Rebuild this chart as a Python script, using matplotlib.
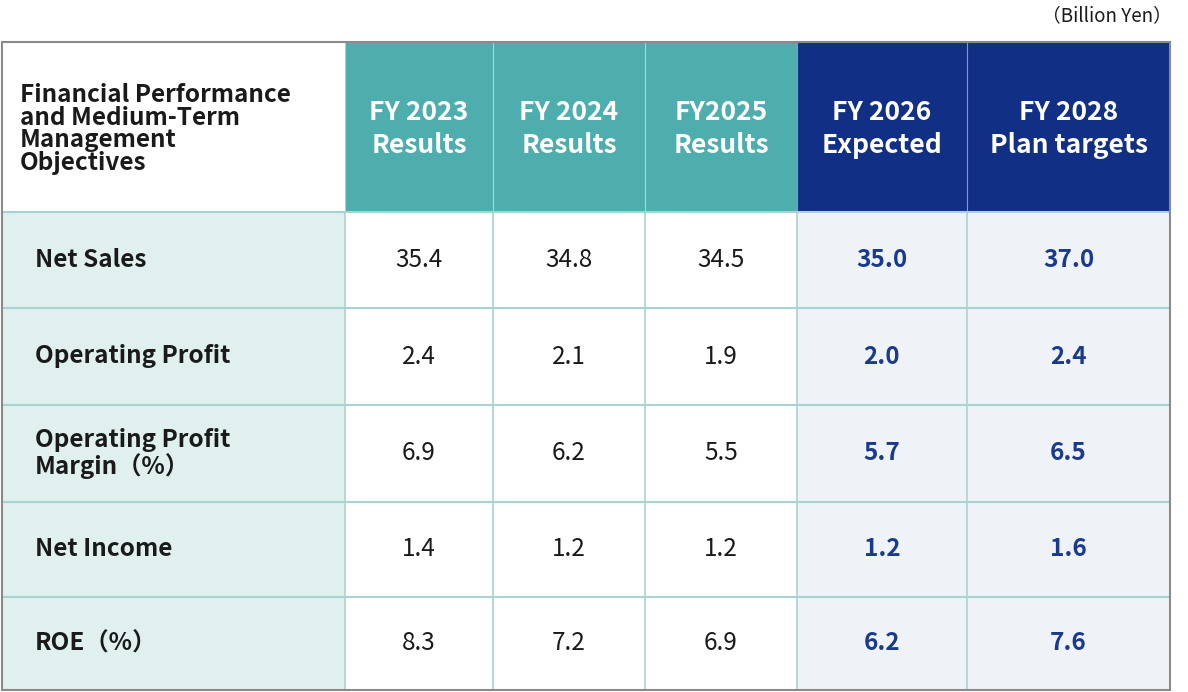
import matplotlib
matplotlib.use("Agg")
import matplotlib.pyplot as plt
from matplotlib.patches import Rectangle

plt.rcParams['font.family'] = ['Noto Sans CJK JP', 'DejaVu Sans']

corner = "Financial Performance\nand Medium-Term\nManagement\nObjectives"
columns = ["FY 2023\nResults", "FY 2024\nResults", "FY2025\nResults", "FY 2026\nExpected", "FY 2028\nPlan targets"]
rows = ["Net Sales", "Operating Profit", "Operating Profit\nMargin（%）", "Net Income", "ROE（%）"]
values = [
    ["35.4", "34.8", "34.5", "35.0", "37.0"],
    ["2.4", "2.1", "1.9", "2.0", "2.4"],
    ["6.9", "6.2", "5.5", "5.7", "6.5"],
    ["1.4", "1.2", "1.2", "1.2", "1.6"],
    ["8.3", "7.2", "6.9", "6.2", "7.6"],
]
unit = "（Billion Yen）"

xs = [2, 345, 493, 645, 797, 967, 1170]
ys = [42, 212, 308, 405, 502, 597, 690]

TEAL = "#4DAEAD"; NAVY = "#122F86"; LTEAL = "#E0F0EF"; LNAVY = "#EFF3F7"
LINE = "#A8D3D1"; NAVYTXT = "#1A3A8E"

fig = plt.figure(figsize=(11.88, 6.92), dpi=100)
ax = fig.add_axes([0, 0, 1, 1])
ax.set_xlim(0, 1188); ax.set_ylim(692, 0); ax.axis('off')

def rect(x0, y0, x1, y1, fc):
    ax.add_patch(Rectangle((x0, y0), x1 - x0, y1 - y0, fc=fc, ec='none', zorder=1))

# header
rect(xs[0], ys[0], xs[1], ys[1], "white")
for j in range(5):
    rect(xs[j+1], ys[0], xs[j+2], ys[1], TEAL if j < 3 else NAVY)
    ax.text((xs[j+1] + xs[j+2]) / 2, (ys[0] + ys[1]) / 2 + 2, columns[j], color='white',
            fontsize=19, fontweight='bold', ha='center', va='center', linespacing=1.3, zorder=3)
ax.text(20, (ys[0] + ys[1]) / 2 + 2, corner, fontsize=17.5, fontweight='bold', ha='left', va='center',
        linespacing=0.92, color='#1a1a1a', zorder=3)

# body
for i in range(5):
    y0, y1 = ys[i+1], ys[i+2]
    cy = (y0 + y1) / 2
    rect(xs[0], y0, xs[1], y1, LTEAL)
    ax.text(35, cy, rows[i], fontsize=17.5, fontweight='bold', ha='left', va='center',
            linespacing=1.05, color='#1a1a1a', zorder=3)
    for j in range(5):
        navy = j >= 3
        rect(xs[j+1], y0, xs[j+2], y1, LNAVY if navy else "white")
        ax.text((xs[j+1] + xs[j+2]) / 2, cy, values[i][j], fontsize=17.5,
                fontweight='bold' if navy else 'normal',
                color=NAVYTXT if navy else '#1a1a1a', ha='center', va='center', zorder=3)

# grid lines
for y in ys[2:-1]:
    ax.plot([xs[0], xs[-1]], [y, y], color=LINE, lw=1.5, zorder=2)
for x in xs[1:-1]:
    ax.plot([x, x], [ys[1], ys[-1]], color=LINE, lw=1.2, zorder=2)
    ax.plot([x, x], [ys[0], ys[1]], color='white', lw=0.8, alpha=0.5, zorder=2)
ax.plot([xs[0], xs[-1]], [ys[1], ys[1]], color=LINE, lw=1.5, zorder=2)
ax.add_patch(Rectangle((xs[0], ys[0]), xs[-1] - xs[0], ys[-1] - ys[0], fc='none', ec='#8a8a8a', lw=1.5, zorder=4))

ax.text(1172, 16, unit, fontsize=13.5, ha='right', va='center', color='#1a1a1a')

fig.savefig("out.png", dpi=100)
